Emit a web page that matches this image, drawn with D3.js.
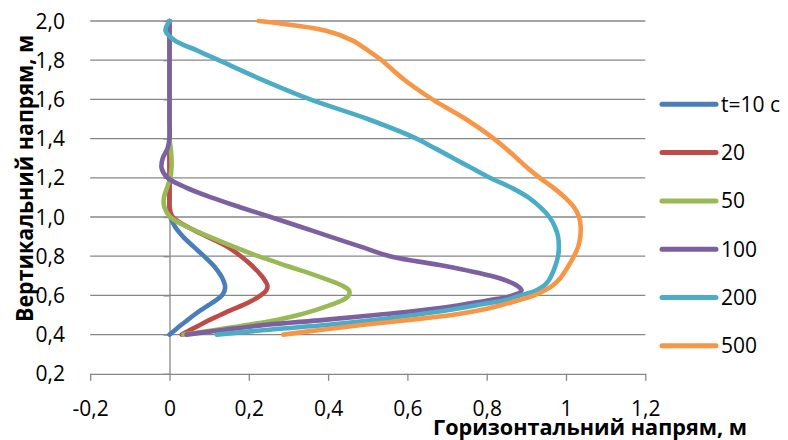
<!DOCTYPE html>
<html>
<head>
<meta charset="utf-8">
<script src="https://cdn.jsdelivr.net/npm/d3@7"></script>
<style>
  body { margin: 0; background: #fff; }
  text { font-family: "Open Sans", "Noto Sans", sans-serif; fill: #000; }
</style>
</head>
<body>
<svg id="chart" width="788" height="440"></svg>
<script>
// Vertical position of each sample, m
const heights = [0.40, 0.425, 0.45, 0.475, 0.50, 0.525, 0.55, 0.575, 0.60, 0.625, 0.65, 0.675, 0.70,
                 0.75, 0.80, 0.85, 0.90, 0.95, 1.00, 1.05, 1.10, 1.15, 1.20, 1.25, 1.30, 1.35, 1.40,
                 1.50, 1.60, 1.70, 1.80, 1.85, 1.90, 1.95, 2.00];

// Horizontal displacement at each height, m, one array per time moment
const disp10 = [0.000, 0.015, 0.030, 0.046, 0.062, 0.079, 0.098, 0.117, 0.132, 0.139, 0.140, 0.136, 0.130,
                0.112, 0.087, 0.060, 0.034, 0.014, 0.002, 0.000, 0.000, 0.000, 0.000, 0.000, 0.000, 0.000, 0.000,
                0.000, 0.000, 0.000, 0.000, 0.000, 0.000, 0.000, 0.000];
const disp20 = [0.031, 0.053, 0.078, 0.101, 0.128, 0.155, 0.185, 0.210, 0.230, 0.244, 0.247, 0.241, 0.232,
                0.209, 0.180, 0.145, 0.095, 0.045, 0.008, 0.000, 0.000, 0.000, 0.000, 0.000, 0.000, 0.000, 0.000,
                0.000, 0.000, 0.000, 0.000, 0.000, 0.000, 0.000, 0.000];
const disp50 = [0.035, 0.120, 0.200, 0.270, 0.325, 0.368, 0.405, 0.436, 0.452, 0.453, 0.435, 0.405, 0.372,
                0.297, 0.224, 0.160, 0.100, 0.044, 0.002, -0.013, -0.014, -0.006, 0.002, 0.005, 0.005, 0.003, 0.000,
                0.000, 0.000, 0.000, 0.000, 0.000, 0.000, 0.000, 0.000];
const disp100 = [0.043, 0.140, 0.245, 0.390, 0.520, 0.640, 0.730, 0.805, 0.866, 0.888, 0.876, 0.850, 0.810,
                 0.695, 0.556, 0.480, 0.405, 0.330, 0.255, 0.178, 0.105, 0.042, -0.005, -0.020, -0.017, -0.005, 0.000,
                 0.000, 0.000, 0.000, 0.000, 0.000, 0.000, 0.000, 0.000];
const disp200 = [0.119, 0.250, 0.400, 0.520, 0.617, 0.704, 0.774, 0.845, 0.885, 0.924, 0.945, 0.956, 0.963,
                 0.973, 0.980, 0.982, 0.980, 0.972, 0.958, 0.935, 0.905, 0.862, 0.808, 0.762, 0.716, 0.670, 0.623,
                 0.500, 0.355, 0.234, 0.124, 0.069, 0.014, -0.010, 0.000];
const disp500 = [0.287, 0.385, 0.490, 0.605, 0.712, 0.785, 0.836, 0.880, 0.920, 0.946, 0.966, 0.980, 0.990,
                 1.006, 1.020, 1.031, 1.036, 1.037, 1.033, 1.020, 0.997, 0.968, 0.934, 0.903, 0.876, 0.848, 0.818,
                 0.747, 0.663, 0.592, 0.535, 0.500, 0.462, 0.395, 0.225];

const seriesNames = ["t=10 c", "20", "50", "100", "200", "500"];
const seriesValues = [disp10, disp20, disp50, disp100, disp200, disp500];
const seriesColors = ["#4A7EBB", "#BE4B48", "#98B954", "#7D60A0", "#4AACC5", "#F79646"];

const xTicks = [-0.2, 0, 0.2, 0.4, 0.6, 0.8, 1.0, 1.2];
const xTickLabels = ["-0,2", "0", "0,2", "0,4", "0,6", "0,8", "1", "1,2"];
const yTicks = [0.2, 0.4, 0.6, 0.8, 1.0, 1.2, 1.4, 1.6, 1.8, 2.0];
const yTickLabels = ["0,2", "0,4", "0,6", "0,8", "1,0", "1,2", "1,4", "1,6", "1,8", "2,0"];

const xTitle = "Горизонтальний напрям, м";
const yTitle = "Вертикальний напрям, м";

const svg = d3.select("#chart");
const plot = { left: 90.2, right: 645.3, top: 21, bottom: 373.8 };
const gridColor = "#878787";

const x = d3.scaleLinear().domain([-0.2, 1.2]).range([plot.left, plot.right]);
const y = d3.scaleLinear().domain([0.2, 2.0]).range([plot.bottom, plot.top]);

// horizontal gridlines
svg.append("g")
  .selectAll("line")
  .data(yTicks.slice(1))
  .join("line")
  .attr("x1", plot.left).attr("x2", plot.right)
  .attr("y1", d => y(d)).attr("y2", d => y(d))
  .attr("stroke", gridColor).attr("stroke-width", 1.3);

// bottom axis along y = 0.2
const xAxis = svg.append("g")
  .attr("transform", `translate(0,${y(0.2)})`)
  .call(d3.axisBottom(x).tickValues(xTicks)
    .tickFormat((d, i) => xTickLabels[i]).tickSize(7).tickSizeOuter(0));
xAxis.select(".domain").attr("stroke", gridColor).attr("stroke-width", 1.3);
xAxis.selectAll(".tick line").attr("stroke", gridColor).attr("stroke-width", 1.3);
xAxis.selectAll(".tick text")
  .attr("y", 42.5).attr("dy", 0)
  .style("font-size", "21px").style("font-family", "'Open Sans', 'Noto Sans', sans-serif");

// vertical axis through x = 0
const yAxis = svg.append("g")
  .attr("transform", `translate(${x(0)},0)`)
  .call(d3.axisLeft(y).tickValues(yTicks).tickFormat("").tickSize(6).tickSizeOuter(0));
yAxis.select(".domain").attr("stroke", gridColor).attr("stroke-width", 1.3);
yAxis.selectAll(".tick line").attr("stroke", gridColor).attr("stroke-width", 1.3);

// vertical tick labels at the left edge of the plot
svg.append("g")
  .selectAll("text")
  .data(yTicks)
  .join("text")
  .attr("x", 65)
  .attr("y", d => y(d) + 7.5)
  .attr("text-anchor", "end")
  .style("font-size", "21px")
  .text((d, i) => yTickLabels[i]);

// profiles
const line = d3.line()
  .x(d => x(d[0]))
  .y(d => y(d[1]))
  .curve(d3.curveCatmullRom.alpha(0.5));

svg.append("g")
  .selectAll("path")
  .data(seriesValues)
  .join("path")
  .attr("d", vals => line(vals.map((v, i) => [v, heights[i]])))
  .attr("fill", "none")
  .attr("stroke", (d, i) => seriesColors[i])
  .attr("stroke-width", 4.6)
  .attr("stroke-linecap", "round")
  .attr("stroke-linejoin", "round");

// legend
const legend = svg.append("g")
  .selectAll("g")
  .data(seriesNames)
  .join("g")
  .attr("transform", (d, i) => `translate(0,${104.3 + i * 48.3})`);
legend.append("line")
  .attr("x1", 662).attr("x2", 716)
  .attr("stroke", (d, i) => seriesColors[i])
  .attr("stroke-width", 5)
  .attr("stroke-linecap", "round");
legend.append("text")
  .attr("x", 721).attr("y", 7.5)
  .style("font-size", "21px")
  .text(d => d);

// axis titles
svg.append("text")
  .attr("x", 433).attr("y", 434.5)
  .attr("textLength", 314).attr("lengthAdjust", "spacingAndGlyphs")
  .style("font-size", "21px").style("font-weight", "bold")
  .text(xTitle);

svg.append("text")
  .attr("transform", "translate(33,178.5) rotate(-90)")
  .attr("text-anchor", "middle")
  .attr("textLength", 287).attr("lengthAdjust", "spacingAndGlyphs")
  .style("font-size", "23px").style("font-weight", "bold")
  .text(yTitle);
</script>
</body>
</html>
